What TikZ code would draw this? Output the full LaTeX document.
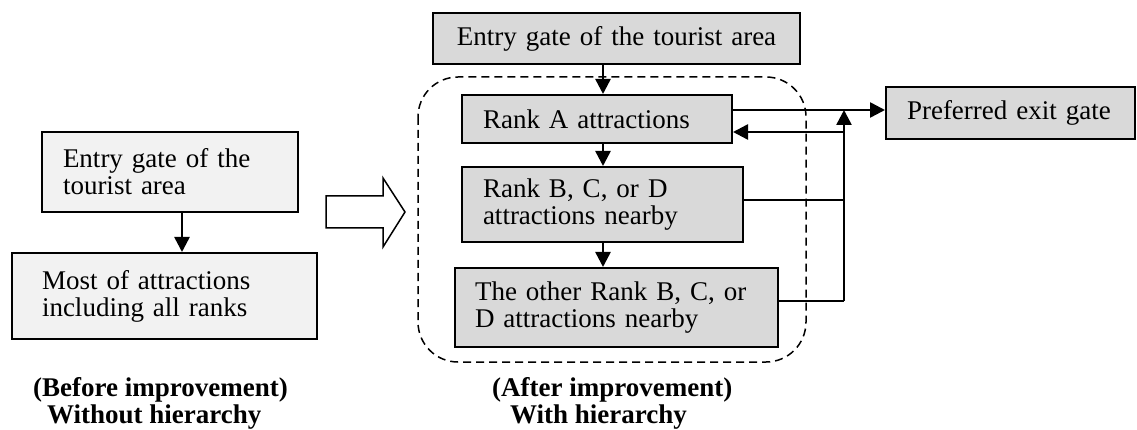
\documentclass[tikz,border=0pt]{standalone}
\usepackage{fontspec}
\setmainfont{Liberation Serif}
\usetikzlibrary{arrows.meta}
\definecolor{lightbox}{HTML}{F2F2F2}
\definecolor{darkbox}{HTML}{D9D9D9}
\begin{document}
\begin{tikzpicture}[x=1pt,y=-1pt,
  box/.style={draw, line width=2pt, inner ysep=0pt, align=left,
    font=\fontsize{27}{27}\selectfont},
  lbox/.style={box, fill=lightbox},
  dbox/.style={box, fill=darkbox},
  arr/.style={line width=2.5pt, -{Triangle[length=15pt,width=15pt]}},
  thinline/.style={line width=1.8pt},
  lbl/.style={anchor=base west, inner sep=0pt, font=\fontsize{27}{27}\selectfont\bfseries}]
\useasboundingbox (0,0) rectangle (1137,430);
% left side
\node[lbox, text width=214pt, inner xsep=21pt, minimum height=80pt] (lentry) at (170,172) {Entry gate of the\\tourist area};
\node[lbox, text width=245pt, inner xsep=30pt, minimum height=86pt] (lmost) at (164.5,296) {Most of attractions\\including all ranks};
\coordinate (lx) at (182,0);
\draw[arr] (lentry.south -| lx) -- (lmost.north -| lx);
% hollow arrow
\draw[line width=1.5pt, fill=white] (326,196) -- (383,196) -- (383,178) -- (405,212) -- (383,247) -- (383,228) -- (326,228) -- cycle;
% dashed group
\draw[line width=1.5pt, dash pattern=on 8pt off 5pt, rounded corners=40pt] (418,77) rectangle (806,362);
% right side
\node[dbox, text width=367pt, inner xsep=0pt, align=center, minimum height=51pt] (rentry) at (616.5,38.5) {Entry gate of the tourist area};
\node[dbox, text width=228pt, inner xsep=21pt, minimum height=48pt] (ranka) at (597,119) {Rank A attractions};
\node[dbox, text width=239pt, inner xsep=21pt, minimum height=75pt] (rankb) at (602.5,204.5) {Rank B, C, or D\\attractions nearby};
\node[dbox, text width=283pt, inner xsep=20pt, minimum height=79pt] (other) at (616.5,307.5) {The other Rank B, C, or\\D attractions nearby};
\node[dbox, text width=207pt, inner xsep=21pt, minimum height=52pt] (exit) at (1010.5,113) {Preferred exit gate};
\coordinate (ax) at (603,0);
\coordinate (vx) at (844,0);
\coordinate (ya) at (0,110);
\coordinate (yr) at (0,132);
\coordinate (yb) at (0,200);
\coordinate (yo) at (0,301);
\draw[arr] (rentry.south -| ax) -- (ranka.north -| ax);
\draw[arr] (ranka.south -| ax) -- (rankb.north -| ax);
\draw[arr] (rankb.south -| ax) -- (other.north -| ax);
\draw[arr] (ranka.east |- ya) -- (exit.west |- ya);
\draw[arr] (vx |- yr) -- (ranka.east |- yr);
\draw[arr] (vx |- yo) -- (vx |- ya);
\draw[thinline] (rankb.east |- yb) -- (vx |- yb);
\draw[thinline] (other.east |- yo) -- (vx |- yo);
% labels
\node[lbl] (b1) at (33,396) {(Before improvement)};
\node[lbl] (b2) at (47,423) {Without hierarchy};
\node[lbl] (a1) at (492,396) {(After improvement)};
\node[lbl] (a2) at (510,423) {With hierarchy};
\end{tikzpicture}
\end{document}
